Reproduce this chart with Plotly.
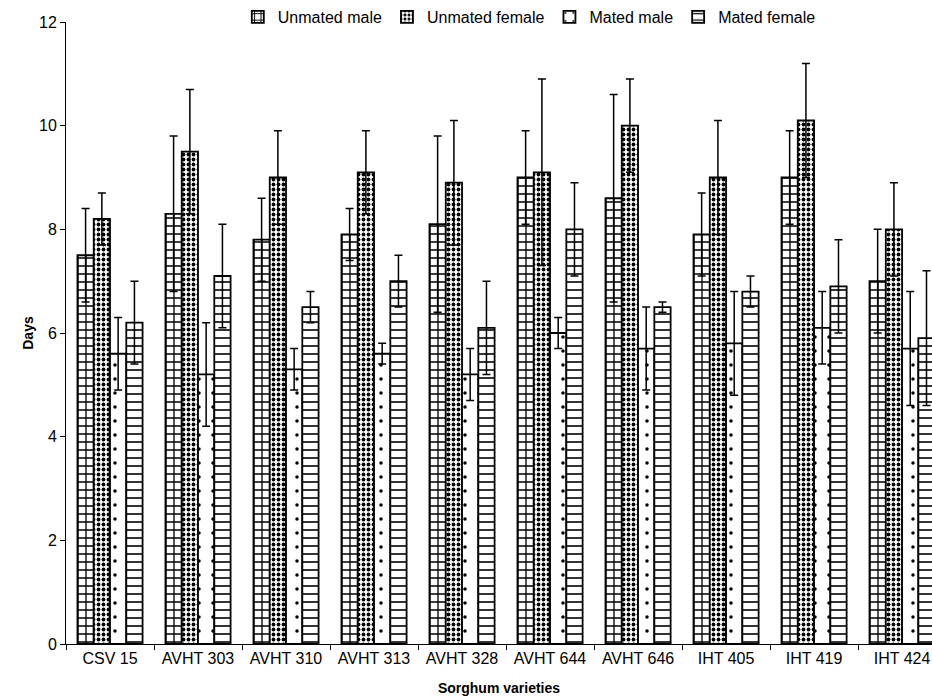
import plotly.graph_objects as go

categories = ["CSV 15", "AVHT 303", "AVHT 310", "AVHT 313", "AVHT 328",
              "AVHT 644", "AVHT 646", "IHT 405", "IHT 419", "IHT 424"]

unmated_male = [7.5, 8.3, 7.8, 7.9, 8.1, 9.0, 8.6, 7.9, 9.0, 7.0]
unmated_male_err = [0.9, 1.5, 0.8, 0.5, 1.7, 0.9, 2.0, 0.8, 0.9, 1.0]

unmated_female = [8.2, 9.5, 9.0, 9.1, 8.9, 9.1, 10.0, 9.0, 10.1, 8.0]
unmated_female_err = [0.5, 1.2, 0.9, 0.8, 1.2, 1.8, 0.9, 1.1, 1.1, 0.9]

mated_male = [5.6, 5.2, 5.3, 5.6, 5.2, 6.0, 5.7, 5.8, 6.1, 5.7]
mated_male_err = [0.7, 1.0, 0.4, 0.2, 0.5, 0.3, 0.8, 1.0, 0.7, 1.1]

mated_female = [6.2, 7.1, 6.5, 7.0, 6.1, 8.0, 6.5, 6.8, 6.9, 5.9]
mated_female_err = [0.8, 1.0, 0.3, 0.5, 0.9, 0.9, 0.1, 0.3, 0.9, 1.3]

series = [
    ("Unmated male", unmated_male, unmated_male_err, dict(shape="+", size=8, solidity=0.3)),
    ("Unmated female", unmated_female, unmated_female_err, dict(shape=".", size=5, solidity=0.45)),
    ("Mated male", mated_male, mated_male_err, dict(shape=".", size=14, solidity=0.05)),
    ("Mated female", mated_female, mated_female_err, dict(shape="-", size=8, solidity=0.2)),
]

FONT = "Liberation Sans, Arial, sans-serif"

fig = go.Figure()
for name, vals, errs, pat in series:
    fig.add_trace(go.Bar(
        name=name, x=categories, y=vals,
        marker=dict(color="white", line=dict(color="black", width=1.8),
                    pattern=dict(fgcolor="black", bgcolor="white", fillmode="replace", **pat)),
        error_y=dict(type="data", array=errs, visible=True, color="black",
                     thickness=1.5, width=4),
    ))

fig.update_layout(
    width=932, height=696,
    barmode="group", bargap=0.26, bargroupgap=0,
    plot_bgcolor="white", paper_bgcolor="white",
    margin=dict(l=66, r=0, t=22, b=52, autoexpand=False),
    font=dict(family=FONT, size=16, color="black"),
    legend=dict(orientation="h", x=0.535, xanchor="center",
                yref="container", y=1 - 17 / 696, yanchor="middle",
                font=dict(size=16), bgcolor="rgba(0,0,0,0)", itemwidth=30),
    showlegend=True,
)
fig.update_xaxes(
    range=[-0.5, 9.34], showline=True, linecolor="black", linewidth=1,
    ticks="outside", tickson="boundaries", ticklen=5, tickcolor="black",
    showgrid=False, zeroline=False, automargin=False,
    title=dict(text="<b>Sorghum varieties</b>", font=dict(size=14), standoff=16),
    tickfont=dict(size=16),
)
fig.update_yaxes(
    range=[0, 12], dtick=2, showline=True, linecolor="black", linewidth=1,
    ticks="outside", ticklen=5, tickcolor="black",
    showgrid=False, zeroline=False, automargin=False,
    title=dict(text="<b>Days</b>", font=dict(size=14), standoff=2),
    tickfont=dict(size=16),
)

fig.write_html(
    "out.html",
    config={"displayModeBar": False},
    post_script="document.body.style.margin='0';document.body.style.overflow='hidden';",
)
